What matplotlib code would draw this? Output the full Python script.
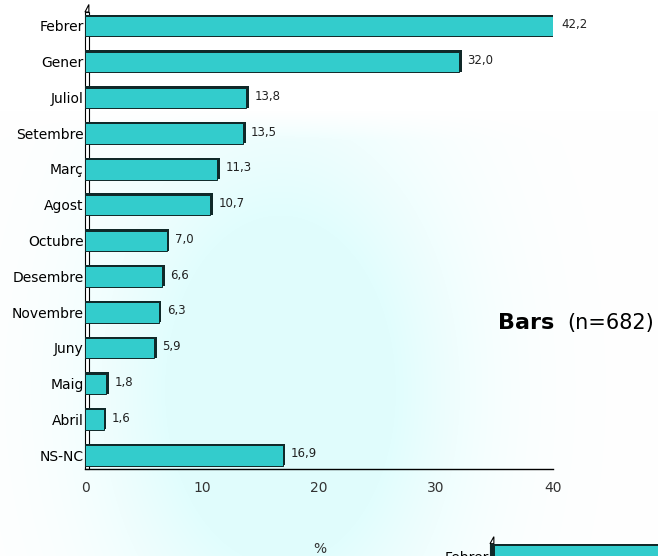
import numpy as np
import matplotlib.pyplot as plt
from matplotlib.patches import Rectangle, Polygon

months = ['Febrer', 'Gener', 'Juliol', 'Setembre', 'Març', 'Agost', 'Octubre',
          'Desembre', 'Novembre', 'Juny', 'Maig', 'Abril', 'NS-NC']
values = [42.2, 32.0, 13.8, 13.5, 11.3, 10.7, 7.0, 6.6, 6.3, 5.9, 1.8, 1.6, 16.9]
x_ticks = [0, 10, 20, 30, 40]
X_MAX = 40

BAR_COLOR = '#33CCCC'
EDGE_COLOR = '#102828'

W, H = 658, 556
fig = plt.figure(figsize=(W / 100, H / 100), dpi=100)

# faint cyan background wash
bg = fig.add_axes([0, 0, 1, 1], zorder=-5)
yy, xx = np.mgrid[0:H, 0:W]
mask = np.exp(-(((xx - 280) / 165.0) ** 2 + ((yy - 390) / 250.0) ** 2))
mask = np.clip(mask * 1.6, 0, 1) * np.clip((yy - 110) / 30.0, 0, 1)
tint = np.array([0.85, 0.99, 0.99])
img = np.ones((H, W, 3)) * (1 - mask[..., None] * 0.8) + tint * mask[..., None] * 0.8
bg.imshow(img, aspect='auto', extent=[0, W, H, 0])
bg.axis('off')

ax = fig.add_axes([85 / W, (H - 469) / H, (553 - 85) / W, (469 - 12) / H])
ax.patch.set_alpha(0)

y = np.arange(len(months))
shown = np.minimum(values, X_MAX)

# side wall of the 3d frame
ax.add_patch(Rectangle((0, -0.39), 0.33, 12.78, facecolor='white',
                       edgecolor='black', linewidth=0.8, zorder=1, clip_on=False))
ax.add_patch(Polygon([(0, -0.39), (0.33, -0.6), (0.33, -0.39)],
                     closed=True, facecolor='white', edgecolor='black',
                     linewidth=0.8, zorder=1, clip_on=False))

# depth shadow + front face
ax.barh(y - 0.015, shown + 0.22, height=0.6, color=EDGE_COLOR, zorder=2)
ax.barh(y + 0.01, shown, height=0.57, color=BAR_COLOR, edgecolor=EDGE_COLOR,
        linewidth=0.7, zorder=3)

for yi, v, s in zip(y, values, shown):
    ax.text(s + 0.7, yi - 0.03, f'{v:.1f}'.replace('.', ','), va='center', ha='left',
            fontsize=8.5, color='#222222', clip_on=False)

ax.set_xlim(0, X_MAX)
ax.set_ylim(12.39, -0.39)
ax.set_yticks(y)
ax.set_yticklabels(months, fontsize=10)
ax.set_xticks(x_ticks)
ax.set_xticklabels([str(t) for t in x_ticks], fontsize=10, color='#333333')
ax.tick_params(axis='both', length=0)
ax.tick_params(axis='y', pad=1)
ax.tick_params(axis='x', pad=9)
for side in ['top', 'right', 'left']:
    ax.spines[side].set_visible(False)
ax.spines['bottom'].set_linewidth(1.0)

fig.text(320 / W, 1 - 549 / H, '%', fontsize=10, color='#333333', ha='center', va='center')

fig.text(498 / W, 1 - 329 / H, 'Bars', fontsize=16, fontweight='bold', ha='left', va='baseline')
fig.text(567 / W, 1 - 329 / H, '(n=682)', fontsize=15, ha='left', va='baseline')

# cropped start of the next chart at the bottom right
ax2 = fig.add_axes([490 / W, 0, (W - 490) / W, 26 / H])
ax2.patch.set_alpha(0)
ax2.set_xlim(0, (W - 490) / 11.7)
ax2.set_ylim(0.04, -0.69)
ax2.add_patch(Rectangle((0, -0.3), 0.33, 1.0, facecolor='white',
                        edgecolor='black', linewidth=0.8, clip_on=False))
ax2.add_patch(Polygon([(0, -0.3), (0.33, -0.5), (0.33, -0.3)], closed=True,
                      facecolor='white', edgecolor='black', linewidth=0.8,
                      clip_on=False))
ax2.barh([0], [values[0]], height=0.6, color=EDGE_COLOR)
ax2.barh([0.02], [values[0]], height=0.57, left=0.3, color=BAR_COLOR,
         edgecolor=EDGE_COLOR, linewidth=0.7)
ax2.set_yticks([0.05])
ax2.set_yticklabels([months[0]], fontsize=10)
ax2.tick_params(length=0, pad=1)
ax2.set_xticks([])
for s in ax2.spines.values():
    s.set_visible(False)

fig.savefig('out.png', dpi=100)
